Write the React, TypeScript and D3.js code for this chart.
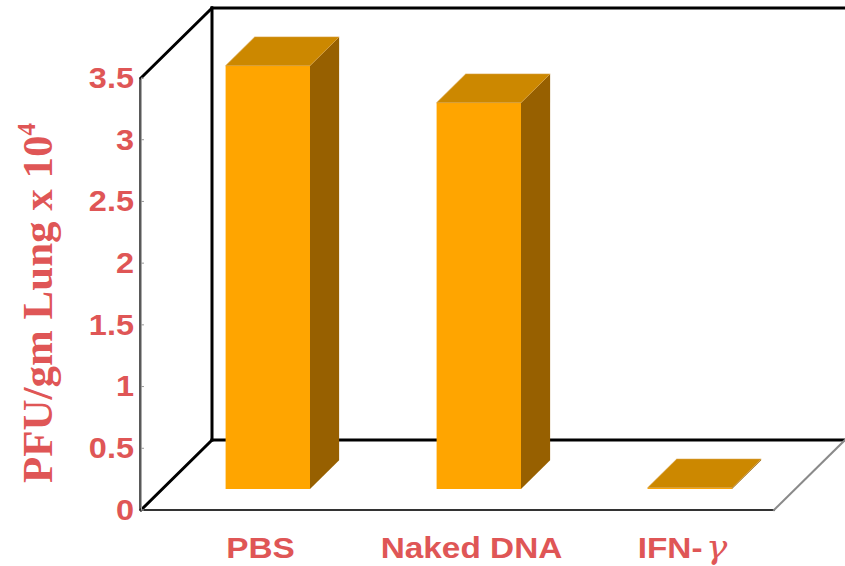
import React from "react";
import * as d3 from "d3";

// Treatment groups and lung viral titres (PFU/gm lung, x 10^4)
const categories = ["PBS", "Naked DNA", "IFN-γ"];
const titres = [3.43, 3.13, 0.01];
const yTicks = [0, 0.5, 1, 1.5, 2, 2.5, 3, 3.5];
const yTickLabels = ["0", "0.5", "1", "1.5", "2", "2.5", "3", "3.5"];

const W = 845;
const H = 566;
const RED = "#DF5656";
const FRONT = "#FFA500";
const TOP = "#CC8800";
const SIDE = "#976000";

// Oblique projection: depth z in [0,1] shifts right and up
const DEPTH_X = 71;
const DEPTH_Y = -70;
const BAR_Z0 = 0.3;
const BAR_Z1 = 0.71;

export default function App() {
  const x = d3
    .scaleBand<string>()
    .domain(categories)
    .range([141, 774])
    .paddingInner(0.6)
    .paddingOuter(0.3);
  const y = d3.scaleLinear().domain([0, 3.5]).range([510, 78]);

  const proj = (px: number, v: number, z: number): [number, number] => [
    px + DEPTH_X * z,
    y(v) + DEPTH_Y * z,
  ];
  const poly = (pts: [number, number][]) =>
    pts.map((p) => p.map((n) => n.toFixed(2)).join(",")).join(" ");

  const x0 = 141;
  const x1 = 774;
  const vMax = 3.5;

  const frontTop = proj(x0, vMax, 0);
  const backTopL = proj(x0, vMax, 1);
  const backTopR = proj(x1, vMax, 1);
  const backBotL = proj(x0, 0, 1);
  const backBotR = proj(x1, 0, 1);
  const frontBotL = proj(x0, 0, 0);
  const frontBotR = proj(x1, 0, 0);

  return (
    <svg
      width={W}
      height={H}
      style={{ position: "absolute", left: 0, top: 0, background: "#fff" }}
    >
      {/* back wall and floor frame */}
      <g fill="none" strokeLinecap="square">
        <line x1={backTopL[0]} y1={backTopL[1]} x2={backTopR[0] + 20} y2={backTopR[1]} stroke="#000" strokeWidth={3} />
        <line x1={backTopL[0]} y1={backTopL[1]} x2={backBotL[0]} y2={backBotL[1]} stroke="#000" strokeWidth={3} />
        <line x1={frontTop[0]} y1={frontTop[1]} x2={backTopL[0]} y2={backTopL[1]} stroke="#000" strokeWidth={3} />
        <line x1={backBotL[0]} y1={backBotL[1]} x2={backBotR[0] + 20} y2={backBotR[1]} stroke="#000" strokeWidth={3} />
        <line x1={frontBotL[0]} y1={frontBotL[1]} x2={backBotL[0]} y2={backBotL[1]} stroke="#000" strokeWidth={3} />
        <line x1={frontBotL[0]} y1={frontBotL[1]} x2={frontBotR[0]} y2={frontBotR[1]} stroke="#333" strokeWidth={2} />
        <line x1={frontBotR[0]} y1={frontBotR[1]} x2={backBotR[0]} y2={backBotR[1]} stroke="#8a8a8a" strokeWidth={2} />
      </g>

      {/* bars */}
      {categories.map((c, i) => {
        const bx0 = x(c)!;
        const bx1 = bx0 + x.bandwidth();
        const v = titres[i];
        const fBL = proj(bx0, 0, BAR_Z0);
        const fBR = proj(bx1, 0, BAR_Z0);
        const fTL = proj(bx0, v, BAR_Z0);
        const fTR = proj(bx1, v, BAR_Z0);
        const bTL = proj(bx0, v, BAR_Z1);
        const bTR = proj(bx1, v, BAR_Z1);
        const bBR = proj(bx1, 0, BAR_Z1);
        return (
          <g key={c}>
            <polygon points={poly([fTR, bTR, bBR, fBR])} fill={SIDE} />
            <polygon points={poly([fBL, fBR, fTR, fTL])} fill={FRONT} />
            <polygon points={poly([fTL, fTR, bTR, bTL])} fill={TOP} stroke="#D9A040" strokeWidth={0.6} />
          </g>
        );
      })}

      {/* value axis */}
      <line x1={140} y1={y(vMax)} x2={140} y2={y(0)} stroke="#222" strokeWidth={1.5} />
      <line x1={141.5} y1={y(vMax)} x2={141.5} y2={y(0)} stroke="#aaa" strokeWidth={1} />
      {yTicks.map((t) => (
        <line key={"tk" + t} x1={141} x2={144} y1={y(t)} y2={y(t)} stroke="#999" strokeWidth={1} />
      ))}
      {yTicks.map((t, i) => (
        <text
          key={"tl" + t}
          transform={`translate(134,${y(t)}) scale(1.12,1)`}
          textAnchor="end"
          dominantBaseline="central"
          fontFamily="'Liberation Sans', Arial, sans-serif"
          fontWeight="bold"
          fontSize={29}
          fill={RED}
        >
          {yTickLabels[i]}
        </text>
      ))}

      {/* category labels */}
      {categories.map((c) => {
        const cx = x(c)! + x.bandwidth() / 2 + 14;
        const greek = c.endsWith("γ");
        return (
          <text
            key={"cl" + c}
            transform={`translate(${cx},558) scale(1.15,1)`}
            textAnchor="middle"
            fontFamily="'Liberation Sans', Arial, sans-serif"
            fontWeight="bold"
            fontSize={29}
            fill={RED}
          >
            {greek ? (
              <>
                {c.slice(0, -1)}
                <tspan fontFamily="'DejaVu Serif', 'Liberation Serif', serif" fontStyle="italic" fontWeight="normal" fontSize={31} dx={3}>
                  γ
                </tspan>
              </>
            ) : (
              c
            )}
          </text>
        );
      })}

      {/* axis title */}
      <text
        transform="translate(52,483) rotate(-90)"
        fontFamily="'Liberation Serif', 'Times New Roman', serif"
        fontWeight="bold"
        fontSize={43}
        fill={RED}
      >
        PFU/gm Lung x 10
        <tspan fontSize={25} dy={-17}>4</tspan>
      </text>
    </svg>
  );
}
